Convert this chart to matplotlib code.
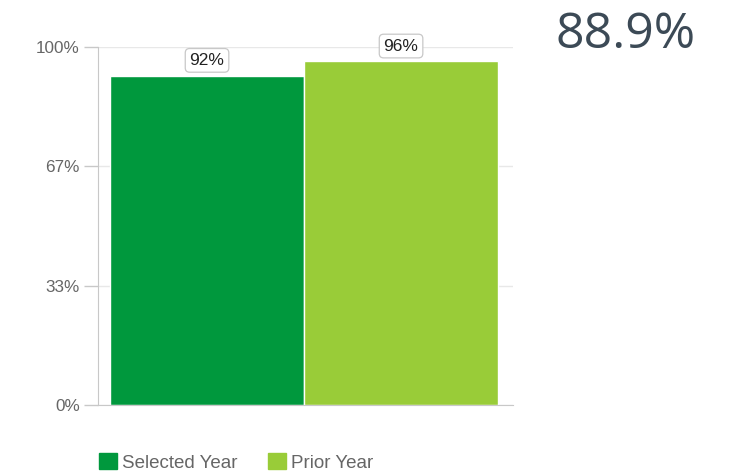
import matplotlib.pyplot as plt
from matplotlib.patches import Patch

series = ['Selected Year', 'Prior Year']
values = [92, 96]
colors = ['#00983D', '#99CC38']
yticks = [0, 100 / 3, 200 / 3, 100]
ytick_labels = ['0%', '33%', '67%', '100%']
headline = 88.9

plt.rcParams['font.family'] = ['Liberation Sans', 'DejaVu Sans']

fig = plt.figure(figsize=(7.48, 4.72), dpi=100)
ax = fig.add_axes([98 / 748, 67 / 472, 415 / 748, 358 / 472])

xs = list(range(len(values)))
bars = ax.bar(xs, values, width=1.0, color=colors, edgecolor='white', linewidth=1)

for x, v in zip(xs, values):
    ax.annotate(f'{v}%', (x, v), xytext=(0, 11), textcoords='offset points',
                ha='center', va='center', fontsize=12.5, color='#222222',
                bbox=dict(boxstyle='round,pad=0.25,rounding_size=0.25',
                          fc='white', ec='#c8c8c8', lw=0.9))

ax.set_xlim(-0.562, 1.577)
ax.set_ylim(0, 100)
ax.set_yticks(yticks)
ax.set_yticklabels(ytick_labels)
ax.set_xticks([])
ax.tick_params(axis='y', length=10, width=1, color='#c8c8c8',
               labelcolor='#666666', labelsize=12.3, pad=3)
ax.grid(axis='y', color='#e8e8e8', linewidth=1)
ax.set_axisbelow(True)
for side in ['top', 'right']:
    ax.spines[side].set_visible(False)
ax.spines['left'].set_color('#c8c8c8')
ax.spines['bottom'].set_color('#c8c8c8')

# headline figure in the top right
fig.text(556 / 748, 1 - 35 / 472, f'{headline}%', fontsize=36, color='#3C4A56',
         ha='left', va='center', family=['Open Sans', 'DejaVu Sans'])

handles = [Patch(facecolor=c, edgecolor=c) for c in colors]
fig.legend(handles, series, loc='lower left', bbox_to_anchor=(82 / 748, -0.035),
           ncol=2, frameon=False, fontsize=13.5, labelcolor='#666666',
           handlelength=0.95, handleheight=0.95, handletextpad=0.3,
           columnspacing=1.6)

fig.savefig('out.png', dpi=100)
